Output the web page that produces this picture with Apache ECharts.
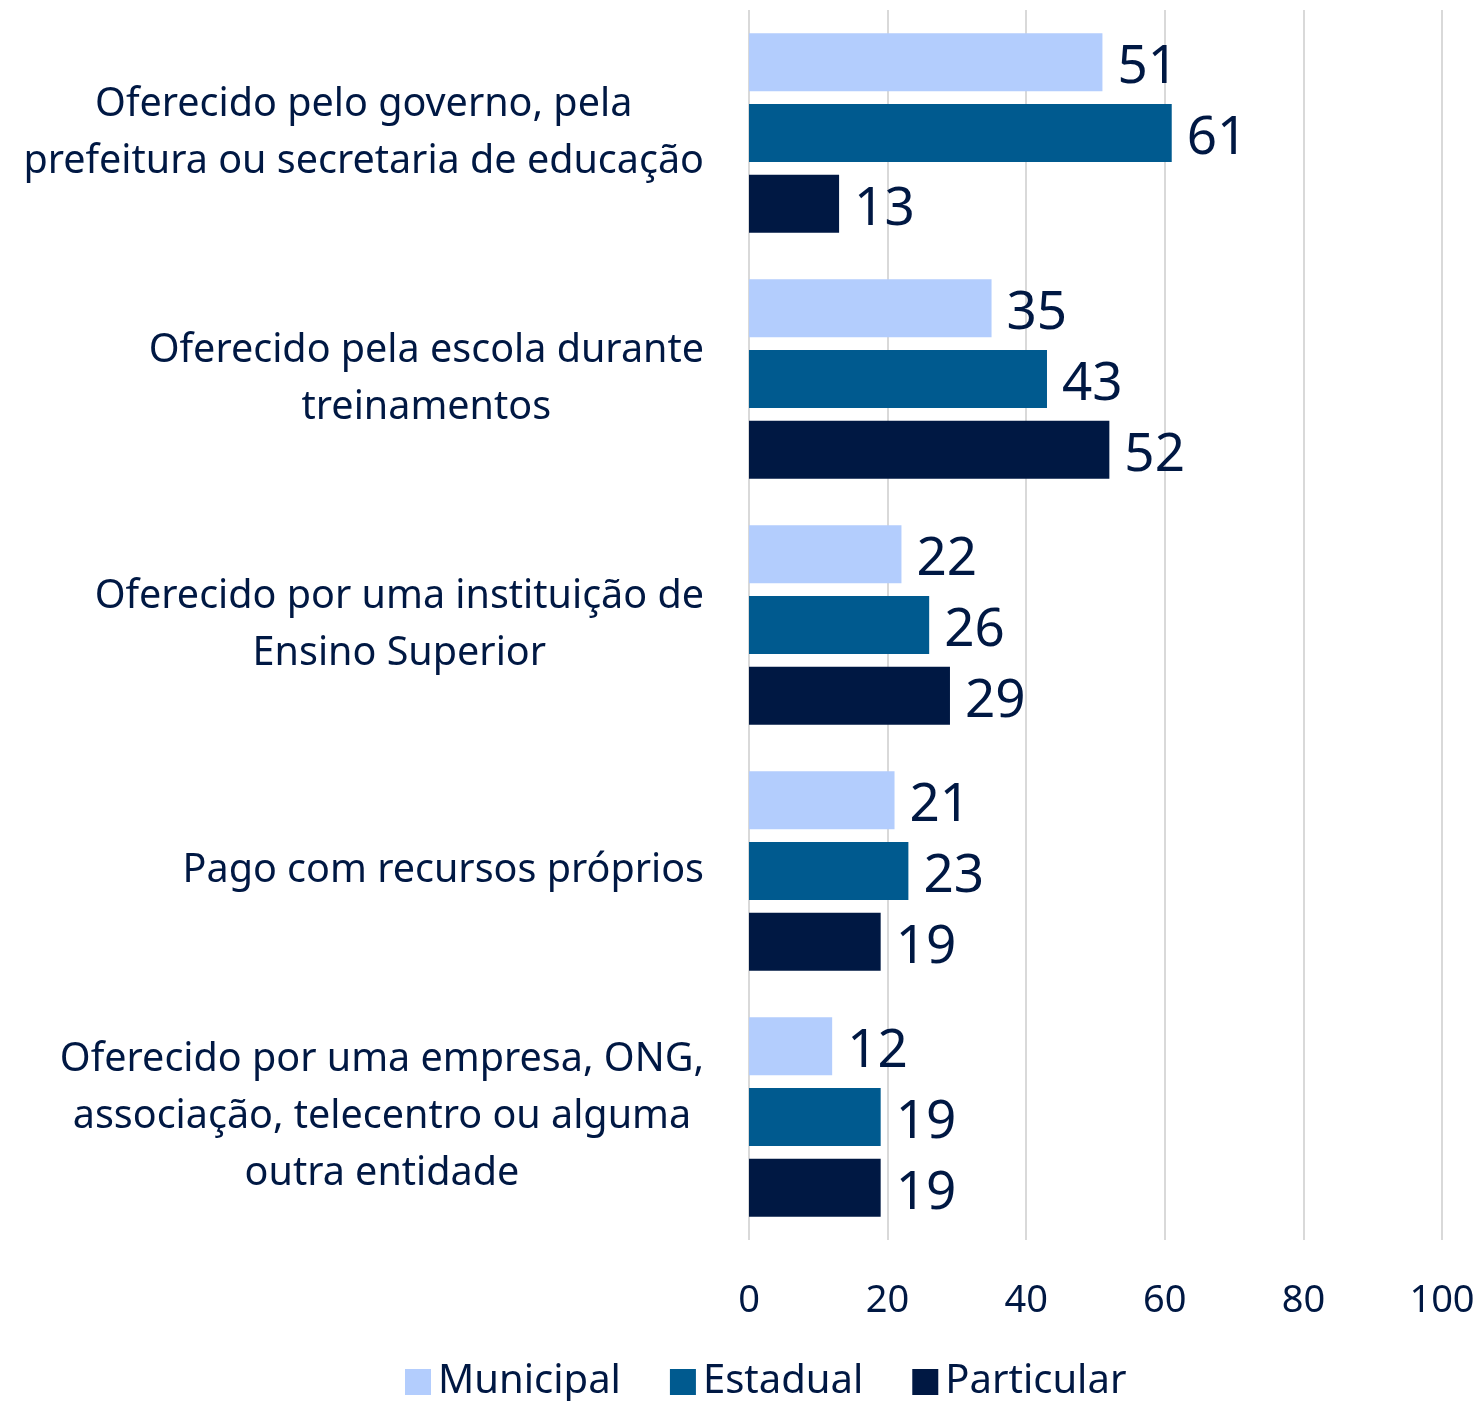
<!DOCTYPE html>
<html>
<head>
<meta charset="utf-8">
<script src="https://cdn.jsdelivr.net/npm/echarts@6/dist/echarts.min.js"></script>
<style>
  html, body { margin: 0; padding: 0; background: #fff; }
  #chart { width: 1483px; height: 1401px; }
</style>
</head>
<body>
<div id="chart"></div>
<script>
// categorias (de cima para baixo)
const categorias = [
  'Oferecido pelo governo, pela\nprefeitura ou secretaria de educação',
  'Oferecido pela escola durante\ntreinamentos',
  'Oferecido por uma instituição de\nEnsino Superior',
  'Pago com recursos próprios',
  'Oferecido por uma empresa, ONG,\nassociação, telecentro ou alguma\noutra entidade'
];
const series_nomes = ['Municipal', 'Estadual', 'Particular'];
const municipal = [51, 35, 22, 21, 12];
const estadual = [61, 43, 26, 23, 19];
const particular = [13, 52, 29, 19, 19];
const cores = ['#b3cdfd', '#005a8f', '#001843'];
const corTexto = '#001843';
const fonte = '"Noto Sans", "Open Sans", sans-serif';

function barra(nome, dados, cor) {
  return {
    name: nome,
    type: 'bar',
    data: dados,
    barWidth: 58,
    barGap: '22%',
    itemStyle: { color: cor },
    label: {
      show: true,
      position: 'right',
      distance: 15,
      offset: [0, 6],
      color: corTexto,
      fontSize: 53,
      fontFamily: fonte
    }
  };
}

const chart = echarts.init(document.getElementById('chart'));
chart.setOption({
  backgroundColor: '#fff',
  animation: false,
  textStyle: { fontFamily: fonte },
  grid: { left: 749, right: 41, top: 10, bottom: 161, containLabel: false },
  legend: {
    data: series_nomes,
    left: 400,
    top: 1357,
    itemWidth: 26,
    itemHeight: 26,
    itemGap: 49,
    icon: 'rect',
    textStyle: { fontSize: 40, color: corTexto, fontFamily: fonte, padding: [0, 0, 0, 2] }
  },
  xAxis: {
    type: 'value',
    min: 0,
    max: 100,
    interval: 20,
    axisLine: { show: false },
    axisTick: { show: false },
    splitLine: { lineStyle: { color: '#d9d9d9', width: 2 } },
    axisLabel: { fontSize: 38, color: corTexto, margin: 42, fontFamily: fonte }
  },
  yAxis: {
    type: 'category',
    inverse: true,
    data: categorias,
    axisLine: { show: false },
    axisTick: { show: false },
    axisLabel: {
      margin: 45,
      align: 'right',
      fontSize: 39.5,
      lineHeight: 57,
      color: corTexto,
      fontFamily: fonte,
      formatter: function (v) {
        return v.split('\n').map(function (l) { return '{c|' + l + '}'; }).join('\n');
      },
      rich: {
        c: { align: 'center', fontSize: 39.5, lineHeight: 57, color: corTexto, fontFamily: fonte }
      }
    }
  },
  series: [
    barra(series_nomes[0], municipal, cores[0]),
    barra(series_nomes[1], estadual, cores[1]),
    barra(series_nomes[2], particular, cores[2])
  ]
});
window.addEventListener('resize', function () { chart.resize(); });
</script>
</body>
</html>
